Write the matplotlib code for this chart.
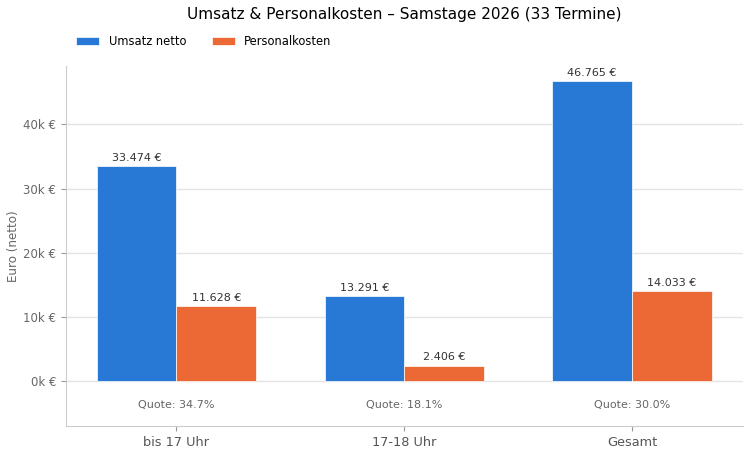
import matplotlib.pyplot as plt
import numpy as np
from matplotlib.ticker import FuncFormatter

categories = ["bis 17 Uhr", "17-18 Uhr", "Gesamt"]
umsatz = [33474, 13291, 46765]
personal = [11628, 2406, 14033]
quoten = ["34.7%", "18.1%", "30.0%"]

def euro(v):
    return "{:,.0f} €".format(v).replace(",", ".")

fig, ax = plt.subplots(figsize=(7.5, 4.55), dpi=100)
x = np.arange(len(categories))
w = 0.35

b1 = ax.bar(x - w/2, umsatz, w, color="#2878d6", edgecolor="white", linewidth=0.5, label="Umsatz netto")
b2 = ax.bar(x + w/2, personal, w, color="#ec6935", edgecolor="white", linewidth=0.5, label="Personalkosten")

for bars in (b1, b2):
    for r in bars:
        ax.text(r.get_x() + r.get_width()/2, r.get_height() + 500, euro(r.get_height()),
                ha="center", va="bottom", fontsize=8, color="#333333")

for i, q in enumerate(quoten):
    ax.text(x[i], -3700, "Quote: " + q, ha="center", va="center", fontsize=8, color="#666666")

ax.set_ylim(-7000, 46765 * 1.05)
ax.set_xticks(x)
ax.set_xticklabels(categories, fontsize=9.3, color="#555555")
ax.yaxis.set_major_formatter(FuncFormatter(lambda v, p: "{:.0f}k €".format(v / 1000)))
ax.set_yticks([0, 10000, 20000, 30000, 40000])
ax.tick_params(axis="y", labelsize=8.5, colors="#666666")
ax.tick_params(axis="both", color="#999999")
ax.set_ylabel("Euro (netto)", fontsize=8.6, color="#666666", labelpad=2.5)
ax.grid(axis="y", color="#e4e4e4", linewidth=1)
ax.set_axisbelow(True)
for s in ("top", "right"):
    ax.spines[s].set_visible(False)
for s in ("left", "bottom"):
    ax.spines[s].set_color("#cccccc")

ax.set_title("Umsatz & Personalkosten – Samstage 2026 (33 Termine)", fontsize=11, pad=34)
ax.legend(loc="lower left", bbox_to_anchor=(0.0, 1.02), ncol=2, frameon=False, fontsize=8.3,
          handlelength=2.0, columnspacing=2.2)

plt.subplots_adjust(left=0.088, right=0.99, top=0.855, bottom=0.064)
plt.savefig("out.png")
